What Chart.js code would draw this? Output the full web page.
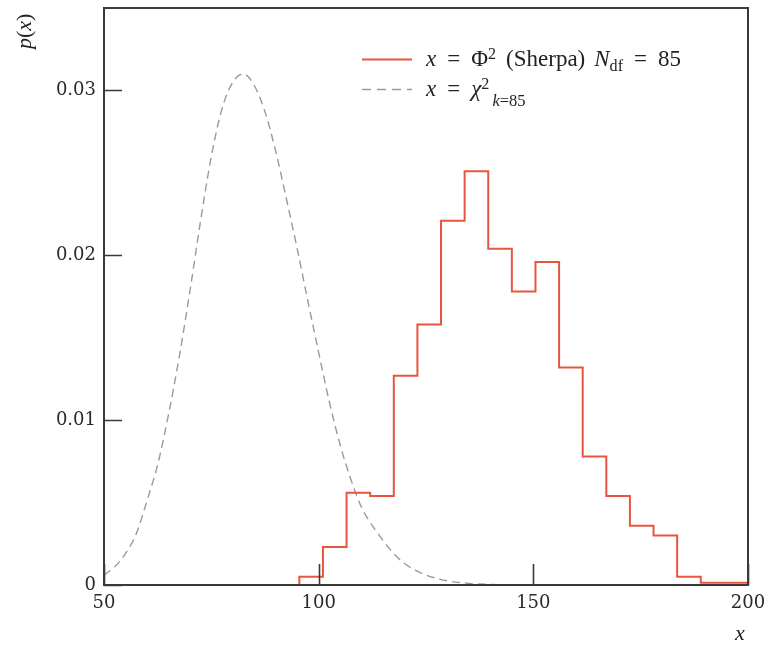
<!DOCTYPE html>
<html>
<head>
<meta charset="utf-8">
<script src="https://cdn.jsdelivr.net/npm/chart.js@4/dist/chart.umd.min.js"></script>
<style>
  html, body { margin: 0; padding: 0; background: #fff; }
  #wrap { position: relative; width: 770px; height: 646px; }
  #c { position: absolute; left: 0; top: 0; }
  .t { position: absolute; font-family: "Liberation Serif", "DejaVu Serif", serif; color: #222; white-space: nowrap; line-height: 1; }
  .t i { font-style: italic; }
  .t sup { font-size: 70%; vertical-align: 0.45em; line-height: 0; }
  .t sub { font-size: 70%; vertical-align: -0.3em; line-height: 0; }
  .sp { display: inline-block; }
</style>
</head>
<body>
<div id="wrap">
  <canvas id="c" width="770" height="646"></canvas>
  <div class="t" id="leg1" style="left:426px; top:47px; font-size:23px;"><i>x</i><span class="sp" style="width:11px"></span>=<span class="sp" style="width:11px"></span>Φ<sup>2</sup><span class="sp" style="width:10px"></span>(Sherpa)<span class="sp" style="width:9px"></span><i>N</i><sub>df</sub><span class="sp" style="width:11px"></span>=<span class="sp" style="width:11px"></span>85</div>
  <div class="t" id="leg2" style="left:426px; top:77px; font-size:23px;"><i>x</i><span class="sp" style="width:11px"></span>=<span class="sp" style="width:11px"></span><i>χ</i><sup>2</sup><sub style="vertical-align:-0.6em; font-size:72%"><span class="sp" style="width:3px"></span><i>k</i>=85</sub></div>
  <div class="t" id="ytitle" style="left:2px; top:14px; font-size:22px; transform: rotate(-90deg); transform-origin: 23px 12px;"><i>p</i>(<i>x</i>)</div>
  <div class="t" id="xtitle" style="left:735px; top:622px; font-size:22px;"><i>x</i></div>
</div>
<script>
// ---- data ----
const binEdges = [95.5, 101, 106.5, 112, 117.5, 123, 128.5, 134, 139.5, 145, 150.5, 156, 161.5, 167, 172.5, 178, 183.5, 189, 194.5, 200];
const sherpaValues = [0.0005, 0.0023, 0.0056, 0.0054, 0.0127, 0.0158, 0.0221, 0.0251, 0.0204, 0.0178, 0.0196, 0.0132, 0.0078, 0.0054, 0.0036, 0.0030, 0.0005, 0.00014, 0.00014];
const chi2X = [50, 52.5, 55, 57.5, 60, 62.5, 65, 67.5, 70, 72.5, 75, 77.5, 80, 82.5, 85, 87.5, 90, 92.5, 95, 97.5, 100, 102.5, 105, 107.5, 110, 112.5, 115, 117.5, 120, 122.5, 125, 127.5, 130, 135, 140, 145, 150];
const chi2Values = [0.0006, 0.0011, 0.0019, 0.0031, 0.0051, 0.0073, 0.0103, 0.0138, 0.0178, 0.0221, 0.0260, 0.0289, 0.0305, 0.0310, 0.0303, 0.0287, 0.0263, 0.0234, 0.0204, 0.0172, 0.0141, 0.0111, 0.0085, 0.0064, 0.0047, 0.0036, 0.0027, 0.0019, 0.0013, 0.0009, 0.0006, 0.0004, 0.00025, 0.0001, 0.00004, 0.00001, 0];
const xTicks = [50, 100, 150, 200];
const yTicks = [0, 0.01, 0.02, 0.03];
const xRange = [50, 200];
const yRange = [0, 0.035];

const RED = '#e8553f';
const GRAY = '#9a9a9a';
const FRAME = '#3a3a3a';

// histogram as a stepped line through bin edges
const histData = [{ x: binEdges[0], y: 0 }];
sherpaValues.forEach((v, i) => histData.push({ x: binEdges[i], y: v }));
histData.push({ x: binEdges[binEdges.length - 1], y: sherpaValues[sherpaValues.length - 1] });

const chiData = chi2X.map((x, i) => ({ x: x, y: chi2Values[i] }));

const framePlugin = {
  id: 'frame',
  afterDatasetsDraw(chart) {
    const { ctx, chartArea: a, scales } = chart;
    ctx.save();
    ctx.strokeStyle = FRAME;
    ctx.lineWidth = 2;
    ctx.strokeRect(a.left, a.top, a.right - a.left, a.bottom - a.top);
    ctx.lineWidth = 1.6;
    ctx.beginPath();
    yTicks.forEach(v => {
      const y = Math.round(scales.y.getPixelForValue(v)) + 0.5;
      ctx.moveTo(a.left, y); ctx.lineTo(a.left + 18, y);
    });
    xTicks.forEach(v => {
      const x = Math.round(scales.x.getPixelForValue(v)) + 0.5;
      ctx.moveTo(x, a.bottom); ctx.lineTo(x, a.bottom - 21);
    });
    ctx.stroke();
    // legend samples
    ctx.lineWidth = 2;
    ctx.strokeStyle = RED;
    ctx.beginPath(); ctx.moveTo(362, 59.5); ctx.lineTo(412, 59.5); ctx.stroke();
    ctx.lineWidth = 1.5;
    ctx.strokeStyle = GRAY;
    ctx.setLineDash([9, 6]);
    ctx.beginPath(); ctx.moveTo(362, 89.5); ctx.lineTo(412, 89.5); ctx.stroke();
    ctx.restore();
  }
};

new Chart(document.getElementById('c'), {
  type: 'line',
  data: {
    datasets: [
      {
        label: 'x = Φ² (Sherpa) N_df = 85',
        data: histData,
        stepped: 'before',
        borderColor: RED,
        borderWidth: 2,
        pointRadius: 0,
        fill: false,
        order: 1
      },
      {
        label: 'x = χ²_k=85',
        data: chiData,
        borderColor: GRAY,
        borderWidth: 1.4,
        borderDash: [8, 5],
        pointRadius: 0,
        cubicInterpolationMode: 'monotone',
        fill: false,
        order: 2
      }
    ]
  },
  options: {
    responsive: false,
    animation: false,
    layout: { padding: { left: 0, right: 22, top: 8, bottom: 0 } },
    plugins: { legend: { display: false }, tooltip: { enabled: false } },
    scales: {
      x: {
        type: 'linear',
        min: xRange[0], max: xRange[1],
        grid: { display: false, drawTicks: false },
        border: { display: false },
        afterBuildTicks: s => { s.ticks = xTicks.map(v => ({ value: v })); },
        afterFit: s => { s.height = 61; s.paddingLeft = 0; s.paddingRight = 0; },
        ticks: {
          padding: 8,
          color: '#2a2a2a',
          font: { family: 'DejaVu Serif', size: 18 },
          callback: v => String(v),
          maxRotation: 0,
          autoSkip: false
        }
      },
      y: {
        type: 'linear',
        min: yRange[0], max: yRange[1],
        grid: { display: false, drawTicks: false },
        border: { display: false },
        afterBuildTicks: s => { s.ticks = yTicks.map(v => ({ value: v })); },
        afterFit: s => { s.width = 104; s.paddingTop = 0; s.paddingBottom = 0; },
        ticks: {
          padding: 8,
          color: '#2a2a2a',
          font: { family: 'DejaVu Serif', size: 18 },
          callback: v => (v === 0 ? '0' : v.toFixed(2)),
          autoSkip: false
        }
      }
    }
  },
  plugins: [framePlugin]
});
</script>
</body>
</html>
